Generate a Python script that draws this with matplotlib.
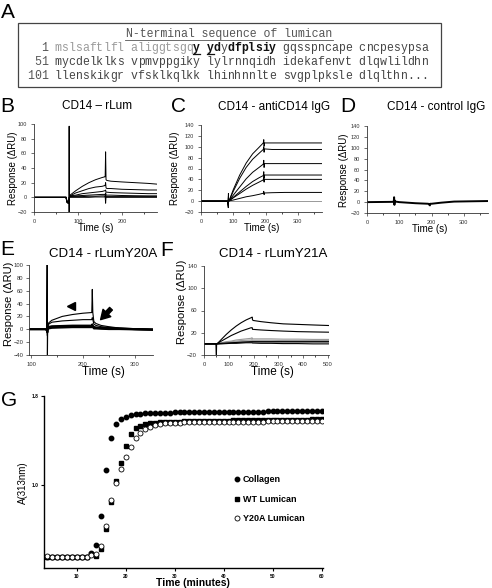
import matplotlib
matplotlib.use("Agg")
import matplotlib.pyplot as plt
from matplotlib.patches import Rectangle, FancyArrowPatch
from matplotlib.ticker import MultipleLocator

plt.rcParams['font.family'] = ['Liberation Sans', 'DejaVu Sans']

W, H = 492, 588

# ---------------- Panel A text ----------------
SEQ_TITLE = "N-terminal sequence of lumican"
SEQ_LINES = [
    "  1 mslsaftlfl aliggtsgqy ydydfplsiy gqsspncape cncpesypsa",
    " 51 mycdelklks vpmvppgiky lylrnnqidh idekafenvt dlqwlildhn",
    "101 llenskikgr vfsklkqlkk lhinhnnlte svgplpksle dlqlthn...",
]
SIGNAL_IDX = list(range(4, 24))          # signal peptide (grey)
BOLD_IDX = [24, 26, 27, 29, 30, 31, 32, 33, 34, 35]
UNDERLINE_IDX = [24, 26]

# ---------------- Panel B: CD14 - rLum ----------------
B_T = [0, 73, 75, 78, 79.5, 80, 80.5, 82, 95, 110, 125, 140, 155, 161, 162, 163, 164, 166, 175, 200, 230, 260, 280]
B_CURVES = [
    [0, 0, -7, -8, -5, 97, 0, 3, 9, 15, 20, 24, 27, 28, 28, 62, 24, 23, 22, 21, 20, 19, 18],
    [0, 0, -7, -8, -5, -20, 0, 2, 6, 9, 12, 14, 15, 16, 16, 20, 13, 12, 12, 11, 10.5, 10, 10],
    [0, 0, -6, -8, -5, -3, 0, 2, 3, 5, 6, 7, 8, 9, 9, 10, 7, 7, 6.5, 6, 5.5, 5, 5],
    [0, 0, -6, -7, -4, -2, 0, 1, 2, 2.5, 3, 3.5, 4, 4, 4, 6, 3, 3, 3, 2.5, 2.2, 2, 2],
    [0, 0, -5, -7, -4, -1, 0, 1, 1, 1, 1.5, 1.5, 2, 2, 2, -8, 1, 1, 1, 1, 1, 1, 1],
    [0, 0, -5, -6, -3, 0, 0, 0, 0, 0, 0, 0.5, 0.5, 0.5, 0.5, 5, 0, 0, 0, 0, 0, 0, 0],
]

# ---------------- Panel C: CD14 - antiCD14 IgG ----------------
C_T = [0, 82, 84.5, 85, 85.5, 88, 100, 120, 140, 160, 180, 193, 194.5, 195.5, 197, 220, 260, 300, 340, 375]
C_CURVES = [
    [0, 0, -12, 14, 0, 2, 21, 48, 70, 87, 99, 107, 113, 101, 107, 107, 107, 107, 107, 107],
    [0, 0, -8, 10, 0, 2, 18, 42, 62, 77, 88, 95, 100, 90, 96, 95, 95, 95, 95, 95],
    [0, 0, -5, 8, 0, 1, 11, 26, 41, 53, 62, 68, 75, 62, 69, 69, 69, 69, 69, 69],
    [0, 0, -4, 6, 0, 1, 7, 17, 27, 36, 43, 47, 54, 42, 48, 48, 48, 48, 48, 48],
    [0, 0, -3, 5, 0, 1, 6, 14, 22, 29, 35, 39, 45, 35, 40, 40, 40, 40, 40, 40],
    [0, 0, -2, 3, 0, 0.5, 2, 5, 8, 10, 12.5, 14.5, 18, 12, 15, 15.5, 16, 16, 16, 16],
]
C_GREY = [0, 0, 0, 0, 0, 0, 0, 0, 0, 0, 0, 0, 0, 0, 0, 0, 0, 0, 0, 0]

# ---------------- Panel D: CD14 - control IgG ----------------
D_T = [0, 80, 83, 84, 85, 86, 88, 100, 150, 190, 195, 196, 200, 230, 270, 320, 375]
D_Y = [0, 0.5, 1, 9, -5, 3, 1, 0, -2, -3, -6, -3, -3, -1, 1, 1.5, 2]

# ---------------- Panel E: CD14 - rLumY20A ----------------
E_T = [96, 128, 130, 131, 131.5, 132, 134, 140, 160, 180, 200, 216, 217, 218, 219, 221, 225, 235, 250, 270, 300, 335]
E_CURVES = [
    [0, 0, -2, 100, -40, 3, 10, 14, 20, 23, 25, 26, 26, 62, 26, 12, 9, 6, 4, 2, 1, 0],
    [0, 0, -2, -5, -10, 3, 8, 11, 13, 14, 15, 15, 15, 18, 15, 8, 6, 4, 3, 2, 1, 0],
    [0, 0, -1, -3, -5, 2, 4, 5, 5.5, 6, 6, 6, 6, 8, 6, 4, 3, 2.5, 2, 1, 0.5, 0],
    [0, 0, -1, -3, -5, 2, 3, 4, 4.5, 5, 5, 5, 5, 6, 5, 3, 2.5, 2, 1.5, 1, 0, -0.5],
    [0, 0, -1, -2, -4, 1, 2, 3, 3.5, 4, 4, 4, 4, 5, 4, 2, 2, 1.5, 1, 0.5, 0, -1],
    [0, 0, 0, -2, -3, 1, 1, 2, 2.5, 3, 3, 3, 3, 4, 3, 1, 1, 0.5, 0, 0, -0.5, -1],
]
E_ARROWHEAD = (176, 36)
E_ARROW = (254, 32, 234, 15)

# ---------------- Panel F: CD14 - rLumY21A ----------------
F_T = [0, 45, 48, 50, 51, 55, 70, 90, 110, 130, 150, 170, 190, 194, 195, 196, 200, 230, 270, 320, 380, 440, 505]
F_BLACK = [
    [0, 0, 0, -20, 0, 1, 8, 17, 25, 32, 38, 43, 47, 48, 48, 43, 42, 40, 38, 36, 35, 34, 33],
    [0, 0, 0, 0, 0, 1, 5, 10, 15, 19, 23, 26, 29, 29, 29, 26, 26, 25, 24, 23, 22, 21.5, 21],
    [0, 0, 0, 0, 0, 0, 1, 1.5, 2, 2.5, 3, 3.5, 4, 4, 4, 4, 4, 4, 4, 4, 4, 4, 4],
    [0, 0, 0, 0, 0, 0, 0, 0.5, 1, 1, 1.5, 2, 2, 2, 2, 1.5, 1.5, 1, 1, 0.5, 0.5, 0, 0],
]
F_GREY = [
    [0, 0, 0, 0, 0, 0.5, 2, 4, 5, 7, 8, 9, 10, 11, 10, 9, 9, 9, 9, 8.5, 8.5, 8, 8],
    [0, 0, 0, 0, 0, 0.5, 1.5, 3, 4, 5, 6, 6.5, 7, 7.5, 7, 6.5, 6.5, 6.5, 6.5, 6, 6, 6, 6],
    [0, 0, 0, 0, 0, 0, 1, 2, 3, 3.5, 4, 4.5, 5, 5.5, 5, 4.5, 4.5, 4.5, 4.5, 4.5, 4.5, 4.5, 4.5],
    [0, 0, 0, 0, 0, 0, 0.5, 1, 1.5, 2, 2.5, 3, 3, 3, 3, 2.5, 2.5, 2.5, 2.5, 2.5, 2.5, 2.5, 2.5],
]

# ---------------- Panel G: turbidity ----------------
G_T = list(range(4, 61))
G_COLLAGEN = [0.35, 0.35, 0.35, 0.35, 0.35, 0.35, 0.35, 0.35, 0.35,
              0.385, 0.46, 0.72, 1.13, 1.42, 1.55, 1.59, 1.61, 1.625, 1.635, 1.64, 1.643, 1.645, 1.647, 1.649, 1.65,
              1.651, 1.652, 1.652, 1.653, 1.653, 1.654, 1.654, 1.655, 1.655, 1.656, 1.656, 1.657, 1.657, 1.658, 1.658, 1.659,
              1.659, 1.66, 1.66, 1.66, 1.661, 1.661, 1.662, 1.662, 1.663, 1.663, 1.663, 1.664, 1.664, 1.664, 1.665, 1.665]
G_WT = [0.35, 0.35, 0.35, 0.35, 0.35, 0.35, 0.35, 0.35, 0.35,
        0.38, 0.355, 0.42, 0.60, 0.847, 1.036, 1.20, 1.35, 1.458, 1.509, 1.533, 1.545, 1.553, 1.558, 1.562, 1.565,
        1.567, 1.569, 1.57, 1.571, 1.572, 1.573, 1.574, 1.575, 1.576, 1.577, 1.578, 1.578, 1.579, 1.58, 1.58, 1.581,
        1.582, 1.582, 1.583, 1.584, 1.584, 1.585, 1.585, 1.586, 1.586, 1.587, 1.587, 1.588, 1.588, 1.589, 1.589, 1.59]
G_Y20A = [0.36, 0.35, 0.35, 0.35, 0.35, 0.35, 0.35, 0.35, 0.35,
          0.37, 0.38, 0.446, 0.63, 0.865, 1.02, 1.14, 1.25, 1.34, 1.42, 1.47, 1.50, 1.524, 1.54, 1.548, 1.555,
          1.558, 1.56, 1.561, 1.562, 1.563, 1.564, 1.564, 1.565, 1.565, 1.566, 1.566, 1.567, 1.567, 1.568, 1.568, 1.569,
          1.569, 1.57, 1.57, 1.57, 1.571, 1.571, 1.572, 1.572, 1.572, 1.573, 1.573, 1.573, 1.574, 1.574, 1.575, 1.575]
G_LABELS = ["Collagen", "WT Lumican", "Y20A Lumican"]

fig = plt.figure(figsize=(W / 100, H / 100), dpi=100)


def px_axes(x0, y0, x1, y1):
    return fig.add_axes([x0 / W, 1 - y1 / H, (x1 - x0) / W, (y1 - y0) / H])


def ftext(x, y, s, **kw):
    fig.text(x / W, 1 - y / H, s, **kw)


def style_spr(ax, xlim, ylim, yticks, xticks, tick_fs=4):
    ax.set_xlim(*xlim)
    ax.set_ylim(*ylim)
    ax.set_yticks(yticks)
    ax.set_xticks(xticks)
    for s in ['top', 'right']:
        ax.spines[s].set_visible(False)
    for s in ['left', 'bottom']:
        ax.spines[s].set_linewidth(0.6)
        ax.spines[s].set_color('#333333')
    ax.tick_params(direction='out', length=2, width=0.5, labelsize=tick_fs,
                   colors='#333333', pad=3)
    ax.patch.set_alpha(0)


# ---------- Panel A ----------
ftext(8, 12, "A", fontsize=15, ha='center', va='center')
fig.patches.append(Rectangle((18 / W, 1 - 87 / H), (441 - 18) / W, (87 - 23) / H,
                             transform=fig.transFigure, fill=False,
                             edgecolor='#444444', linewidth=0.9))
CW = 6.91
X0 = 27.0
mono = 'Liberation Mono'
ftext(229, 34, SEQ_TITLE, family=mono, fontsize=8.3, ha='center', va='center', color='#555555')
tw = len(SEQ_TITLE) * CW
fig.add_artist(plt.Line2D([(229 - tw / 2) / W, (229 + tw / 2) / W], [1 - 40 / H, 1 - 40 / H],
                          transform=fig.transFigure, color='#555555', linewidth=0.6))
line_y = [48, 62, 76]
for li, line in enumerate(SEQ_LINES):
    for ci, ch in enumerate(line):
        if ch == ' ':
            continue
        color = '#444444'
        weight = 'normal'
        if ci < 3:
            color = '#555555'
        if li == 0 and ci in SIGNAL_IDX:
            color = '#9a9a9a'
        if li == 0 and ci in BOLD_IDX:
            weight = 'bold'
            color = '#111111'
        ftext(X0 + ci * CW, line_y[li], ch, family=mono, fontsize=8.3,
              ha='left', va='center', color=color, fontweight=weight)
        if li == 0 and ci in UNDERLINE_IDX:
            fig.add_artist(plt.Line2D([(X0 + ci * CW) / W, (X0 + (ci + 1) * CW) / W],
                                      [1 - 53.5 / H, 1 - 53.5 / H],
                                      transform=fig.transFigure, color='#111111', linewidth=0.9))

# ---------- Panel B ----------
axB = px_axes(34, 124, 157, 212)
for ycur in B_CURVES:
    axB.plot(B_T, ycur, color='black', linewidth=0.7)
style_spr(axB, (0, 280), (-20, 100), [-20, 0, 20, 40, 60, 80, 100], [0, 100, 200])
axB.xaxis.set_minor_locator(MultipleLocator(50))
axB.tick_params(which='minor', length=1.5, width=0.5)
ftext(97, 106, "CD14 – rLum", fontsize=8.5, ha='center', va='center')
ftext(7.5, 106, "B", fontsize=15, ha='center', va='center')
ftext(13, 168, "Response (ΔRU)", fontsize=7, rotation=90, ha='center', va='center')
ftext(96, 228, "Time (s)", fontsize=7, ha='center', va='center')

# ---------- Panel C ----------
axC = px_axes(201, 125, 322, 212)
axC.plot(C_T, C_GREY, color='#999999', linewidth=0.7)
for ycur in C_CURVES:
    axC.plot(C_T, ycur, color='black', linewidth=0.7)
style_spr(axC, (0, 375), (-20, 140), list(range(-20, 141, 20)), [0, 100, 200, 300])
axC.xaxis.set_minor_locator(MultipleLocator(50))
axC.tick_params(which='minor', length=1.5, width=0.5)
ftext(274, 107, "CD14 - antiCD14 IgG", fontsize=8.5, ha='center', va='center')
ftext(179, 107, "C", fontsize=15, ha='center', va='center')
ftext(175, 168, "Response (ΔRU)", fontsize=7, rotation=90, ha='center', va='center')
ftext(262, 228, "Time (s)", fontsize=7, ha='center', va='center')

# ---------- Panel D ----------
axD = px_axes(367, 126, 488, 213)
axD.plot(D_T, D_Y, color='black', linewidth=1.4)
style_spr(axD, (0, 375), (-20, 140), list(range(-20, 141, 20)), [0, 100, 200, 300])
axD.xaxis.set_minor_locator(MultipleLocator(50))
axD.tick_params(which='minor', length=1.5, width=0.5)
ftext(436, 107, "CD14 - control IgG", fontsize=8.5, ha='center', va='center')
ftext(348, 107, "D", fontsize=15, ha='center', va='center')
ftext(344, 170, "Response (ΔRU)", fontsize=7, rotation=90, ha='center', va='center')
ftext(430, 229, "Time (s)", fontsize=7, ha='center', va='center')

# ---------- Panel E ----------
axE = px_axes(29, 265, 153, 355)
for i, ycur in enumerate(E_CURVES):
    axE.plot(E_T, ycur, color='black', linewidth=0.8 if i < 2 else 1.2)
style_spr(axE, (96, 335), (-40, 100), list(range(-40, 101, 20)), [100, 200, 300], tick_fs=4.2)
axE.tick_params(axis='y', pad=2)
axE.xaxis.set_minor_locator(MultipleLocator(50))
axE.tick_params(which='minor', length=1.5, width=0.5)
ax_, ay_ = E_ARROWHEAD
axE.plot([ax_], [ay_], marker='<', markersize=6, color='black', linestyle='none')
x1, y1, x2, y2 = E_ARROW
axE.add_patch(FancyArrowPatch((x1, y1), (x2, y2),
                              arrowstyle='simple,head_width=0.7,head_length=0.6,tail_width=0.25',
                              mutation_scale=11, color='black', shrinkA=0, shrinkB=0))
ftext(103, 254, "CD14 - rLumY20A", fontsize=9.5, ha='center', va='center')
ftext(7.5, 249, "E", fontsize=15, ha='center', va='center')
ftext(9, 304, "Response (ΔRU)", fontsize=8, rotation=90, ha='center', va='center')
ftext(103, 372, "Time (s)", fontsize=8.5, ha='center', va='center')

# ---------- Panel F ----------
axF = px_axes(204, 266, 329, 355)
for ycur in F_GREY:
    axF.plot(F_T, ycur, color='#9a9a9a', linewidth=0.8)
for ycur in F_BLACK:
    axF.plot(F_T, ycur, color='black', linewidth=0.8)
style_spr(axF, (0, 505), (-20, 140), [-20, 20, 60, 100, 140], [0, 100, 200, 300, 400, 500], tick_fs=4.2)
axF.xaxis.set_minor_locator(MultipleLocator(50))
axF.tick_params(which='minor', length=1.5, width=0.5)
ftext(273, 254, "CD14 - rLumY21A", fontsize=9.5, ha='center', va='center')
ftext(167, 251, "F", fontsize=15, ha='center', va='center')
ftext(182, 302, "Response (ΔRU)", fontsize=8, rotation=90, ha='center', va='center')
ftext(272, 372, "Time (s)", fontsize=8.5, ha='center', va='center')

# ---------- Panel G ----------
axG = px_axes(44, 396, 323, 568)
axG.plot(G_T, G_COLLAGEN, 'o', color='black', markersize=3.2, label=G_LABELS[0])
axG.plot(G_T, G_WT, 's', color='black', markersize=3.0, label=G_LABELS[1])
axG.plot(G_T, G_Y20A, 'o', markerfacecolor='white', markeredgecolor='black',
         markeredgewidth=0.6, markersize=3.6, label=G_LABELS[2])
axG.set_xlim(3.3, 60.3)
axG.set_ylim(0.25, 1.8)
axG.set_xticks([10, 20, 30, 40, 50, 60])
axG.set_yticks([1.0, 1.8])
axG.set_yticklabels(["1.0", "1.8"])
for s in ['top', 'right']:
    axG.spines[s].set_visible(False)
for s in ['left', 'bottom']:
    axG.spines[s].set_linewidth(1.0)
axG.tick_params(direction='out', length=2.5, width=0.8, labelsize=3.5, pad=1.5)
for lab in axG.get_xticklabels() + axG.get_yticklabels():
    lab.set_fontweight('bold')
axG.patch.set_alpha(0)
leg = axG.legend(loc='upper left', bbox_to_anchor=(0.66, 0.565), frameon=False,
                 prop={'size': 6.5, 'weight': 'bold'}, handletextpad=0.1,
                 handlelength=1.0, labelspacing=1.15, borderpad=0)
ftext(9, 400, "G", fontsize=15, ha='center', va='center')
ftext(23, 483, "A(313nm)", fontsize=7, rotation=90, ha='center', va='center')
ftext(193, 583.5, "Time (minutes)", fontsize=7.5, fontweight='bold', ha='center', va='center')

fig.savefig("out.png", dpi=100)
